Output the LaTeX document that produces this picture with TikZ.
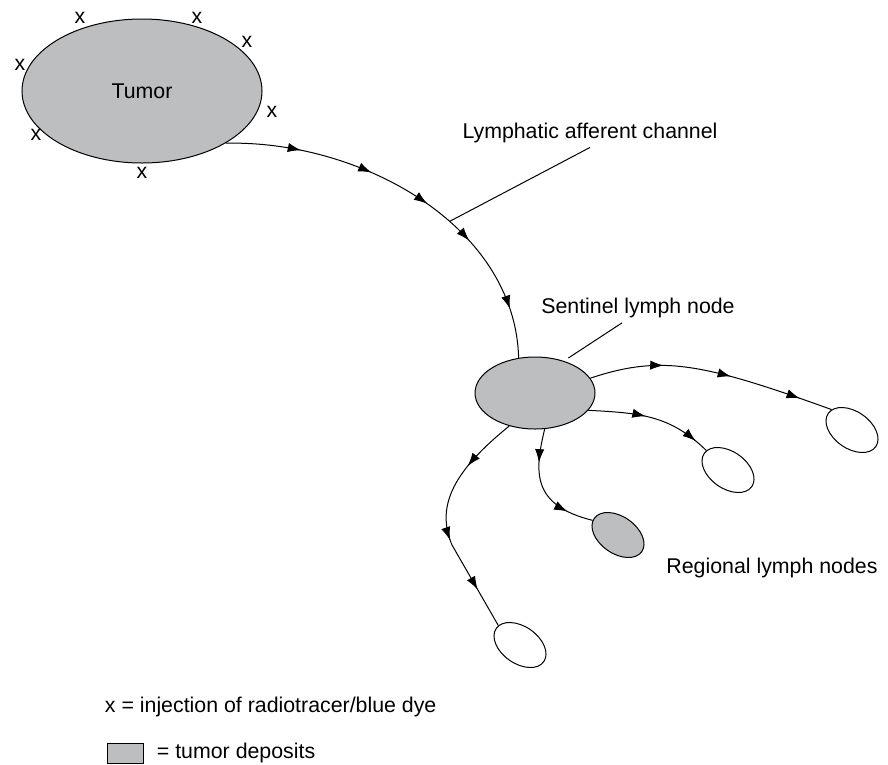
\documentclass[tikz,border=0pt]{standalone}
\usepackage{fontspec}
\setmainfont{Liberation Sans}
\usepackage{tikz}
\usetikzlibrary{arrows.meta,positioning,calc,shapes.geometric,decorations.markings}
\definecolor{lngrey}{HTML}{BDBEC0}

\begin{document}
\begin{tikzpicture}[x=0.75pt,y=-0.75pt,line width=0.75pt,
    font=\fontsize{16}{19}\selectfont,
    flowtip/.tip={Latex[length=10pt,width=7pt]},
    fl/.style={postaction={decorate,decoration={markings,mark=at position #1 with {\arrow{flowtip}}}}},
    lnode/.style={ellipse,draw,fill=white,inner sep=0pt,minimum width=43.5pt,minimum height=27.75pt,rotate=-35}]
  \useasboundingbox (0,0) rectangle (888,764);
  \node[ellipse,draw,fill=lngrey,inner sep=0pt,minimum width=180pt,minimum height=108pt] (tumor) at (142,91) {Tumor};
  \foreach \px/\py [count=\i] in {80/18,197/18,247/42,20/65,272/112,36/135,142/173}
    \node (inj\i) at (\px,\py) {x};
  \node[ellipse,draw,fill=lngrey,inner sep=0pt,minimum width=90pt,minimum height=54pt] (sln) at (535,393) {};
  \node[lnode] (rln1) at (852,430) {};
  \node[lnode] (rln2) at (728,470) {};
  \node[lnode,fill=lngrey] (rln3) at (618,535) {};
  \node[lnode] (rln4) at (520,645) {};

  \node[inner sep=3pt] (chlbl) at (590,133) {Lymphatic afferent channel};
  \node (slbl) at (638,308) {Sentinel lymph node};
  \node (rlbl) at (772,568) {Regional lymph nodes};

  \draw[fl=0.19,fl=0.375,fl=0.535,fl=0.675,fl=0.875] (tumor.-32) .. controls (360,140) and (515,225) .. (sln.115) coordinate[pos=0.59] (chtip);
  \draw (chlbl.south) -- (chtip);
  \draw[shorten >=4pt] ([xshift=-12pt]slbl.south) -- (sln.48);

  \draw[fl=0.3,fl=0.575,fl=0.865] (sln.15) .. controls (660,355) and (700,362) .. (rln1.170);
  \draw[fl=0.45,fl=0.89] (sln.-18) .. controls (640,413) and (670,415) .. (rln2.173);
  \draw[fl=0.28,fl=0.78] (sln.-75) .. controls (535,470) and (530,505) .. (rln3.185);
  \draw[fl=0.245,fl=0.585,fl=0.825] (sln.-128) .. controls (455,470) and (435,505) .. (452,545) -- (rln4.173);

  \node[anchor=west] (lgx) at (100,707) {x = injection of radiotracer/blue dye};
  \node[draw,fill=lngrey,inner sep=0pt,minimum width=27pt,minimum height=15pt] (lgkey) at (125,753) {};
  \node[anchor=west] (lgtd) at (152,753) {= tumor deposits};
\end{tikzpicture}
\end{document}
